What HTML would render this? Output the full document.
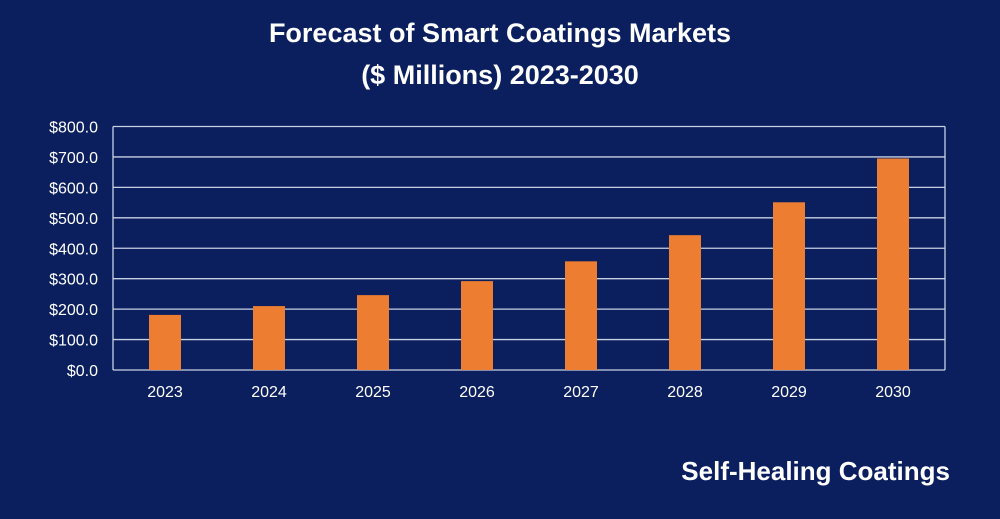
<!DOCTYPE html>
<html><head><meta charset="utf-8"><style>
html,body{margin:0;padding:0;width:1000px;height:519px;overflow:hidden;background:#0b1f5e;}
svg{display:block;font-family:"Liberation Sans",Arial,sans-serif;}
</style></head><body>
<svg id="chart" width="1000" height="519">
<rect x="0" y="0" width="1000" height="519" fill="#0b1f5e"/>
<text x="500" y="42" text-anchor="middle" fill="#fff" font-size="27" font-weight="bold">Forecast of Smart Coatings Markets</text>
<text x="500" y="84" text-anchor="middle" fill="#fff" font-size="27" font-weight="bold">($ Millions) 2023-2030</text>
<text x="950" y="480" text-anchor="end" fill="#fff" font-size="26" font-weight="bold">Self-Healing Coatings</text>
<g id="grid"></g><g id="bars"></g><g id="labels"></g>
</svg>
<script>
const categories=["2023","2024","2025","2026","2027","2028","2029","2030"];
const values=[181,210,246,292,357,443,551,695];
const yTicks=[0,100,200,300,400,500,600,700,800];
const yTickLabels=["$0.0","$100.0","$200.0","$300.0","$400.0","$500.0","$600.0","$700.0","$800.0"];
const L=113,R=945,T=126.5,B=370,yMax=800;
const ns="http://www.w3.org/2000/svg";
const y=v=>B-(v/yMax)*(B-T);
const bw=(R-L)/categories.length;
const x=i=>L+bw*(i+0.5);
function mk(tag,attrs,parent){const e=document.createElementNS(ns,tag);for(const k in attrs)e.setAttribute(k,attrs[k]);parent.appendChild(e);return e;}
const grid=document.getElementById('grid'),bars=document.getElementById('bars'),labels=document.getElementById('labels');
yTicks.forEach((t,i)=>{
 const ln=mk('line',{x1:L,x2:R,y1:y(t),y2:y(t),stroke:'#c8d0e4','stroke-width':1.3},grid);
 
 
 const tx=mk('text',{x:L-15,y:y(t)+6,'text-anchor':'end',fill:'#fff','font-size':16},labels);
 tx.textContent=yTickLabels[i];
 
 
});
const ax=mk('line',{x1:L,x2:L,y1:T,y2:B,stroke:'#c8d0e4','stroke-width':1.3},grid);


const rx=mk('line',{x1:R,x2:R,y1:T,y2:B,stroke:'#c8d0e4','stroke-width':1.3},grid);


categories.forEach((c,i)=>{
 const r=mk('rect',{x:x(i)-16,y:y(values[i]),width:32,height:B-y(values[i]),fill:'#ed7d31'},bars);
 
 
 const tx=mk('text',{x:x(i),y:B+27,'text-anchor':'middle',fill:'#fff','font-size':16},labels);
 tx.textContent=c;
 
 
});
</script>
</body></html>
